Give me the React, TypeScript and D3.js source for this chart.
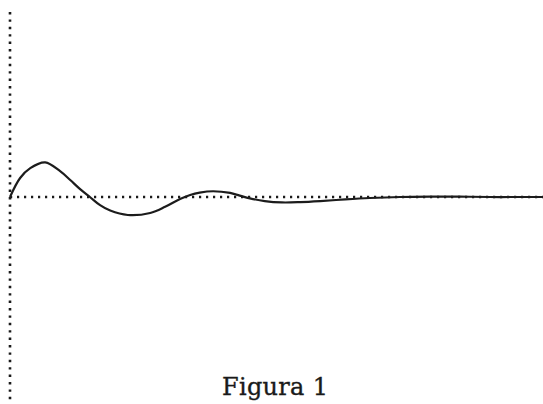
import React from "react";
import * as d3 from "d3";

// values (time, response)
const times = [0, 0.19, 0.38, 0.66, 0.94, 1.13, 1.31, 1.5, 1.69, 1.88, 2.21, 2.63, 2.91, 3.19, 3.38, 3.56, 3.81, 4.13, 4.31, 4.5, 4.78, 5.1, 5.45, 5.82, 6.29, 6.75, 7.32, 7.88, 8.44, 9.0, 9.57, 10];
const response = [0, 0.56, 0.85, 1.02, 0.76, 0.5, 0.24, 0, -0.24, -0.4, -0.53, -0.47, -0.29, -0.06, 0.06, 0.13, 0.17, 0.12, 0.04, -0.04, -0.12, -0.16, -0.15, -0.12, -0.07, -0.03, 0, 0.01, 0.01, 0, 0, 0];
const caption = "Figura 1";

const width = 543;
const height = 404;

const App = () => {
  const x = d3.scaleLinear().domain([0, 10]).range([10, width]);
  const y = d3.scaleLinear().domain([-5.8, 5.8]).range([394, 0]);

  const line = d3
    .line<number>()
    .x((d, i) => x(times[i]))
    .y((d) => y(d))
    .curve(d3.curveCatmullRom.alpha(0.5));

  return (
    <svg
      width={width}
      height={height}
      style={{ position: "absolute", left: 0, top: 0, background: "#fff" }}
    >
      {/* dotted axes */}
      <line
        x1={x(0)}
        x2={x(0)}
        y1={12}
        y2={height}
        stroke="#1a1a1a"
        strokeWidth={2.6}
        strokeDasharray="2.4 5"
      />
      <line
        x1={x(0)}
        x2={width}
        y1={y(0)}
        y2={y(0)}
        stroke="#1a1a1a"
        strokeWidth={2.4}
        strokeDasharray="2.2 4.8"
      />
      <path
        d={line(response) || ""}
        fill="none"
        stroke="#1c1c1c"
        strokeWidth={2.2}
      />
      <text
        x={222}
        y={395}
        fontFamily="'DejaVu Serif', serif"
        fontSize={24}
        fill="#1a1a1a"
        stroke="#1a1a1a"
        strokeWidth={0.35}
        letterSpacing={0.3}
      >
        {caption}
      </text>
    </svg>
  );
};

export default App;
